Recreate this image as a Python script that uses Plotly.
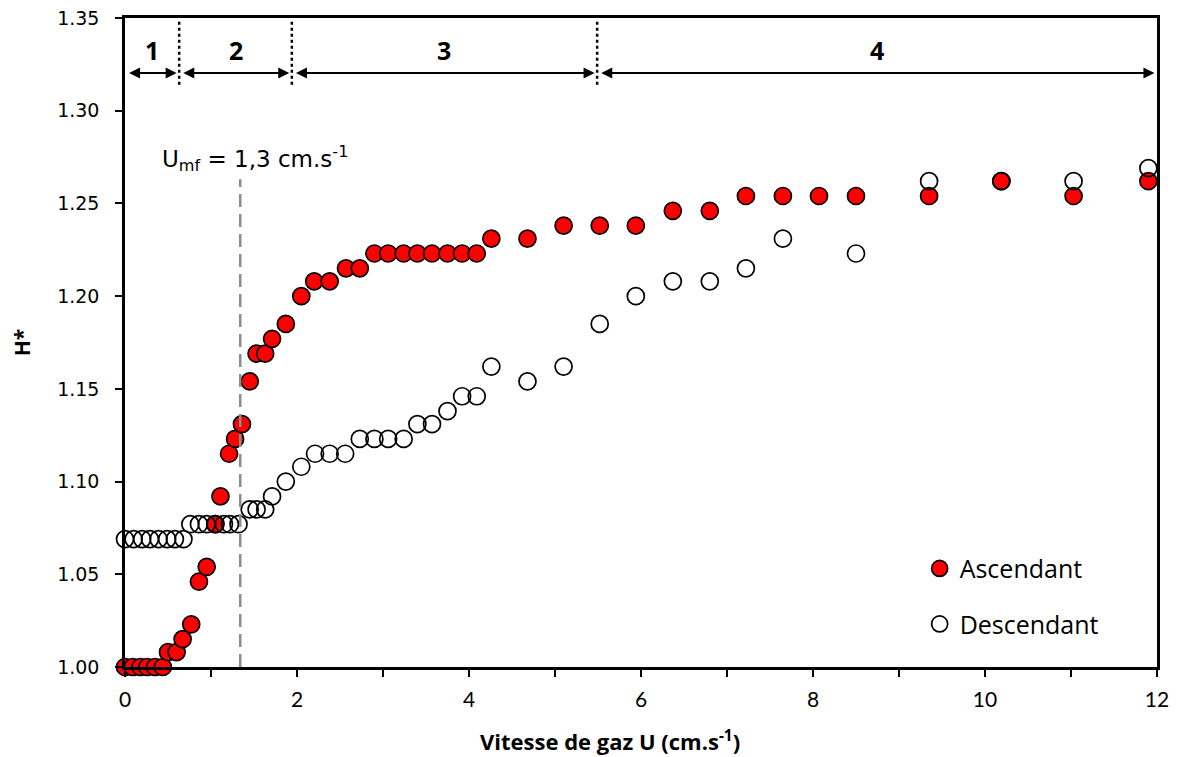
import plotly.graph_objects as go

# Ascendant (increasing gas velocity)
asc_u = [0, 0.09, 0.18, 0.26, 0.35, 0.44, 0.50, 0.60, 0.67, 0.77, 0.86, 0.95, 1.05, 1.11,
         1.21, 1.28, 1.36, 1.45, 1.53, 1.63, 1.71, 1.87, 2.05, 2.20, 2.38, 2.57, 2.73,
         2.90, 3.06, 3.24, 3.40, 3.57, 3.75, 3.92, 4.09, 4.26, 4.68, 5.10, 5.52, 5.94,
         6.37, 6.80, 7.22, 7.65, 8.07, 8.50, 9.35, 10.19, 11.03, 11.90]
asc_h = [1.000, 1.000, 1.000, 1.000, 1.000, 1.000, 1.008, 1.008, 1.015, 1.023, 1.046, 1.054,
         1.077, 1.092, 1.115, 1.123, 1.131, 1.154, 1.169, 1.169, 1.177, 1.185, 1.200, 1.208,
         1.208, 1.215, 1.215, 1.223, 1.223, 1.223, 1.223, 1.223, 1.223, 1.223, 1.223, 1.231,
         1.231, 1.238, 1.238, 1.238, 1.246, 1.246, 1.254, 1.254, 1.254, 1.254, 1.254, 1.262,
         1.254, 1.262]

# Descendant (decreasing gas velocity)
desc_u = [0, 0.10, 0.20, 0.29, 0.39, 0.49, 0.58, 0.68, 0.76, 0.86, 0.95, 1.05, 1.15, 1.22,
          1.32, 1.45, 1.53, 1.63, 1.71, 1.87, 2.05, 2.21, 2.38, 2.56, 2.73, 2.90, 3.06,
          3.24, 3.40, 3.57, 3.75, 3.92, 4.09, 4.26, 4.68, 5.10, 5.52, 5.94, 6.37, 6.80,
          7.22, 7.65, 8.50, 9.35, 10.19, 11.03, 11.90]
desc_h = [1.069, 1.069, 1.069, 1.069, 1.069, 1.069, 1.069, 1.069, 1.077, 1.077, 1.077, 1.077,
          1.077, 1.077, 1.077, 1.085, 1.085, 1.085, 1.092, 1.100, 1.108, 1.115, 1.115, 1.115,
          1.123, 1.123, 1.123, 1.123, 1.131, 1.131, 1.138, 1.146, 1.146, 1.162, 1.154, 1.162,
          1.185, 1.200, 1.208, 1.208, 1.215, 1.231, 1.223, 1.262, 1.262, 1.262, 1.269]

# Regime boundaries and labels
zone_edges = [0, 0.63, 1.94, 5.49, 12]
zone_labels = ["1", "2", "3", "4"]
umf_line_x = 1.34
umf_line_top = 1.263

x_ticks = [0, 2, 4, 6, 8, 10, 12]
y_ticks = [1.00, 1.05, 1.10, 1.15, 1.20, 1.25, 1.30, 1.35]

fig = go.Figure()
fig.add_trace(go.Scatter(
    x=asc_u, y=asc_h, mode="markers", name="Ascendant", legendgroup="a",
    marker=dict(size=17, color="#FF0000", line=dict(color="black", width=1.7)),
    cliponaxis=False))
fig.add_trace(go.Scatter(
    x=desc_u, y=desc_h, mode="markers", name="Descendant", legendgroup="b",
    marker=dict(size=17, color="rgba(0,0,0,0)", line=dict(color="black", width=1.7)),
    cliponaxis=False))

shapes = []
# U_mf dashed line
shapes.append(dict(type="line", xref="x", yref="y", x0=umf_line_x, x1=umf_line_x,
                   y0=1.0, y1=umf_line_top,
                   line=dict(color="#8C8C8C", width=2.5, dash="13px,7px")))
# dotted separators
for xe in zone_edges[1:-1]:
    shapes.append(dict(type="line", xref="x", yref="y", x0=xe, x1=xe, y0=1.314, y1=1.348,
                       line=dict(color="black", width=2.5, dash="dot")))

annotations = []
arrow_y = 1.3203
label_y = 1.3327
for i, lab in enumerate(zone_labels):
    x0 = zone_edges[i] + 0.03
    x1 = zone_edges[i + 1] - 0.03
    annotations.append(dict(
        x=x1, y=arrow_y, ax=x0, ay=arrow_y, xref="x", yref="y", axref="x", ayref="y",
        text="", showarrow=True, arrowhead=2, startarrowhead=2, arrowside="end+start",
        arrowsize=1.1, startarrowsize=1.1, arrowwidth=2, arrowcolor="black",
        standoff=0, startstandoff=0))
    annotations.append(dict(
        x=(zone_edges[i] + zone_edges[i + 1]) / 2, y=label_y, xref="x", yref="y",
        text="<b>%s</b>" % lab, showarrow=False,
        font=dict(family="Open Sans", size=25, color="black")))

annotations.append(dict(
    x=1.51, y=1.2745, xref="x", yref="y", showarrow=False,
    text="U<sub>mf</sub> = 1,3 cm.s<sup>-1</sup>",
    font=dict(family="DejaVu Sans", size=23, color="black")))

# x-axis title (placed as in the reference, slightly left of centre)
annotations.append(dict(
    x=0.47, y=0, xref="paper", yref="paper", yshift=-56, yanchor="top", showarrow=False,
    text="<b>Vitesse de gaz U (cm.s<sup>-1</sup>)</b>",
    font=dict(family="Open Sans", size=22, color="black")))

fig.update_layout(
    width=1178, height=757,
    margin=dict(l=117, r=29, t=10, b=98),
    paper_bgcolor="white", plot_bgcolor="white",
    shapes=shapes, annotations=annotations,
    showlegend=True,
    legend=dict(x=0.77, y=0.187, xanchor="left", yanchor="top",
                font=dict(family="Open Sans", size=25, color="black"),
                tracegroupgap=20, bgcolor="rgba(0,0,0,0)"),
    xaxis=dict(range=[0, 12], tickvals=x_ticks, ticks="outside", ticklen=7, tickwidth=2,
               tickcolor="black", showline=True, linewidth=2.5, linecolor="black",
               mirror=True, showgrid=False, zeroline=False, automargin=False,
               ticklabeloverflow="allow", ticklabelstandoff=5,
               minor=dict(dtick=1, ticks="outside", ticklen=7, tickwidth=2, tickcolor="black"),
               tickfont=dict(family="Lato", size=21, color="black")),
    yaxis=dict(range=[1.0, 1.35], tickvals=y_ticks, tickformat=".2f", ticks="outside",
               ticklen=7, tickwidth=2, tickcolor="black", showline=True, linewidth=2.5,
               linecolor="black", mirror=True, showgrid=False, zeroline=False, automargin=False,
               ticklabeloverflow="allow", ticklabelstandoff=12,
               tickfont=dict(family="DejaVu Sans", size=19, color="black"),
               title=dict(text="<b>H*</b>", font=dict(family="Open Sans", size=21, color="black"),
                          standoff=22)),
)

fig.write_html("out.html")
